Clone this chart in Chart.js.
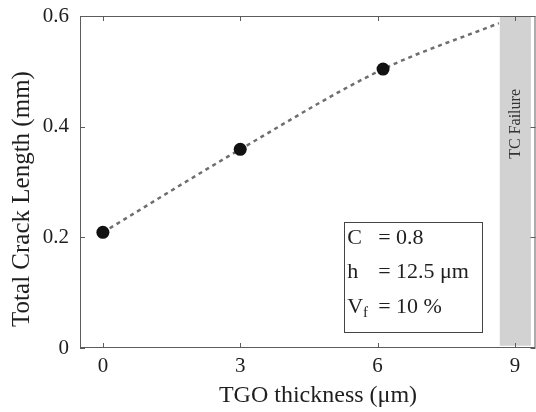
<!DOCTYPE html>
<html>
<head>
<meta charset="utf-8">
<script src="https://cdn.jsdelivr.net/npm/chart.js@4/dist/chart.umd.min.js"></script>
<style>
  html, body { margin: 0; padding: 0; background: #fff; overflow: hidden; }
  canvas { display: block; }
</style>
</head>
<body>
<canvas id="chart" width="536" height="412"></canvas>
<script>
'use strict';

/* ── Data ─────────────────────────────────────────────── */

const tgoThickness = [0, 3, 6.12];
const crackLength  = [0.209, 0.359, 0.504];

// dashed trend curve, continues up to the failure band
const trendX = [0, 3, 6.12, 8.65];
const trendY = [0.209, 0.359, 0.504, 0.587];

const xTicks = [0, 3, 6, 9];
const yTicks = [0, 0.2, 0.4, 0.6];

const failBandX = [8.67, 9.35];
const failBandY = [0.004, 0.6];
const failLabel = 'TC Failure';

const paramNames  = ['C', 'h', 'V'];
const paramSubs   = ['', '', 'f'];
const paramValues = ['= 0.8', '= 12.5 μm', '= 10 %'];

const xTitle = 'TGO thickness (μm)';
const yTitle = 'Total Crack Length (mm)';

/* ── Styling ─────────────────────────────────────────── */

const SERIF = '"Liberation Serif", "Times New Roman", serif';
const INK = '#1e1e1e';
const FRAME = '#5c5c5c';

/* ── Decorations: band, frame, inward ticks, box, titles ─ */

const decor = {
  id: 'decor',
  beforeDatasetsDraw(chart) {
    const { ctx, scales: { x, y } } = chart;
    const x0 = x.getPixelForValue(failBandX[0]);
    const x1 = x.getPixelForValue(failBandX[1]);
    const yb = y.getPixelForValue(failBandY[0]);
    const yt = y.getPixelForValue(failBandY[1]);
    ctx.save();
    ctx.fillStyle = '#d2d2d2';
    ctx.fillRect(x0, yt, x1 - x0, yb - yt);

    ctx.translate((x0 + x1) / 2, y.getPixelForValue(0.405));
    ctx.rotate(-Math.PI / 2);
    ctx.fillStyle = '#333';
    ctx.font = `16px ${SERIF}`;
    ctx.textAlign = 'center';
    ctx.textBaseline = 'middle';
    ctx.fillText(failLabel, 0, 0);
    ctx.restore();
  },
  afterDraw(chart) {
    const { ctx, chartArea: a, scales: { x, y } } = chart;
    const tl = 5;
    ctx.save();

    // frame
    ctx.strokeStyle = FRAME;
    ctx.lineWidth = 1;
    ctx.strokeRect(a.left + 0.5, a.top + 0.5, a.right - a.left - 1, a.bottom - a.top - 1);

    // inward ticks
    ctx.beginPath();
    xTicks.forEach(v => {
      const px = Math.round(x.getPixelForValue(v)) + 0.5;
      ctx.moveTo(px, a.bottom); ctx.lineTo(px, a.bottom - tl);
      ctx.moveTo(px, a.top);    ctx.lineTo(px, a.top + tl);
    });
    yTicks.forEach(v => {
      const py = Math.round(y.getPixelForValue(v)) + 0.5;
      ctx.moveTo(a.left, py);  ctx.lineTo(a.left + tl, py);
      ctx.moveTo(a.right, py); ctx.lineTo(a.right - tl, py);
    });
    ctx.stroke();

    // parameter box
    const bx0 = x.getPixelForValue(5.27);
    const bx1 = x.getPixelForValue(8.29);
    const by0 = y.getPixelForValue(0.228);
    const by1 = y.getPixelForValue(0.029);
    ctx.strokeStyle = '#444';
    ctx.strokeRect(Math.round(bx0) + 0.5, Math.round(by0) + 0.5,
                   Math.round(bx1 - bx0), Math.round(by1 - by0));

    ctx.fillStyle = INK;
    ctx.textBaseline = 'alphabetic';
    ctx.textAlign = 'left';
    paramNames.forEach((name, i) => {
      const base = by0 + 22 + i * 34.5;
      ctx.font = `22px ${SERIF}`;
      ctx.fillText(name, bx0 + 3, base);
      if (paramSubs[i]) {
        const w = ctx.measureText(name).width;
        ctx.font = `15px ${SERIF}`;
        ctx.fillText(paramSubs[i], bx0 + 3 + w, base + 4);
        ctx.font = `22px ${SERIF}`;
      }
      ctx.fillText(paramValues[i], bx0 + 34, base);
    });

    // axis titles
    ctx.font = `24px ${SERIF}`;
    ctx.textAlign = 'center';
    ctx.textBaseline = 'middle';
    ctx.fillText(xTitle, 318, 396);

    ctx.translate(22, 199);
    ctx.rotate(-Math.PI / 2);
    ctx.font = `25px ${SERIF}`;
    ctx.fillText(yTitle, 0, 0);
    ctx.restore();
  },
};

/* ── Chart ───────────────────────────────────────────── */

new Chart(document.getElementById('chart'), {
  type: 'scatter',
  data: {
    datasets: [
      {
        label: 'Crack length',
        data: tgoThickness.map((v, i) => ({ x: v, y: crackLength[i] })),
        backgroundColor: '#111',
        borderColor: '#111',
        pointRadius: 6.5,
        pointBorderWidth: 0,
      },
      {
        label: 'Trend',
        data: trendX.map((v, i) => ({ x: v, y: trendY[i] })),
        showLine: true,
        borderColor: '#6e6e6e',
        borderWidth: 2.5,
        borderDash: [4, 4],
        pointRadius: 0,
        cubicInterpolationMode: 'monotone',
      },
    ],
  },
  options: {
    responsive: false,
    animation: false,
    devicePixelRatio: 1,
    layout: {
      autoPadding: false,
      padding: { top: 16, right: 0.5, left: 0, bottom: 0 },
    },
    plugins: {
      legend: { display: false },
      tooltip: { enabled: false },
    },
    scales: {
      x: {
        type: 'linear',
        min: -0.5,
        max: 9.45,
        grid: { display: false, drawTicks: false },
        border: { display: false },
        afterBuildTicks: s => { s.ticks = xTicks.map(v => ({ value: v })); },
        afterFit: s => {
          s.height = 64;
          s.paddingLeft = 0;
          s.paddingRight = 0;
        },
        ticks: {
          padding: 6,
          color: INK,
          font: { family: SERIF, size: 21 },
          maxRotation: 0,
          callback: v => String(v),
        },
      },
      y: {
        type: 'linear',
        min: 0,
        max: 0.6,
        grid: { display: false, drawTicks: false },
        border: { display: false },
        afterBuildTicks: s => { s.ticks = yTicks.map(v => ({ value: v })); },
        afterFit: s => {
          s.width = 80;
          s.paddingTop = 0;
          s.paddingBottom = 0;
        },
        ticks: {
          padding: 11,
          color: INK,
          font: { family: SERIF, size: 21 },
          callback: v => String(+v.toFixed(1)),
        },
      },
    },
  },
  plugins: [decor],
});
</script>
</body>
</html>
